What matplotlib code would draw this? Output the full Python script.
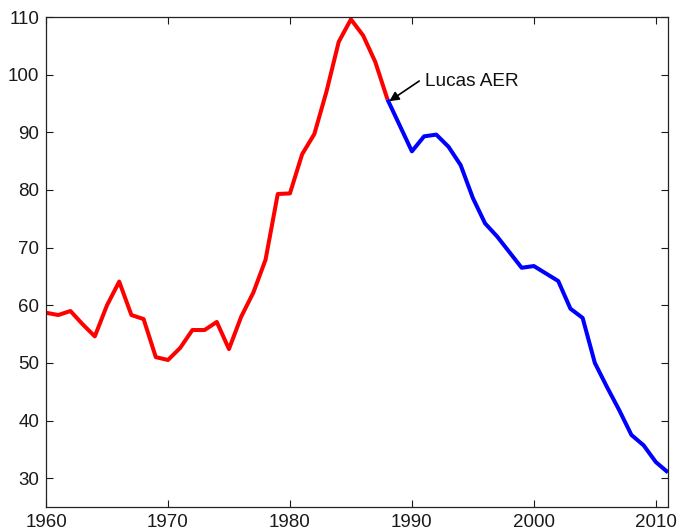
import matplotlib
matplotlib.use("Agg")
import matplotlib.pyplot as plt

years = list(range(1960, 2012))
values = [58.7, 58.3, 59.0, 56.7, 54.6, 60.0, 64.1, 58.3, 57.6, 51.0,
          50.5, 52.6, 55.7, 55.7, 57.1, 52.4, 58.0, 62.2, 67.9, 79.3,
          79.4, 86.2, 89.7, 97.1, 105.7, 109.6, 106.8, 102.2, 95.7, 91.2,
          86.7, 89.3, 89.6, 87.5, 84.3, 78.6, 74.2, 71.9, 69.2, 66.5,
          66.8, 65.5, 64.2, 59.4, 57.8, 50.0, 45.8, 41.8, 37.5, 35.7,
          32.8, 31.0]
split_year = 1988
annotation_text = "Lucas AER"

plt.rcParams['font.family'] = ['Liberation Sans', 'DejaVu Sans']

fig = plt.figure(figsize=(6.79, 5.32), dpi=100)
ax = fig.add_axes([0.0678, 0.047, 0.916, 0.921])

i = years.index(split_year)
ax.plot(years[:i + 1], values[:i + 1], color='#ff0000', lw=2.9, solid_capstyle='butt')
ax.plot(years[i:], values[i:], color='#0000ff', lw=2.9, solid_capstyle='butt')

ax.text(1991.05, 98.8, annotation_text, fontsize=13.7, va='center', ha='left',
        color='#111111')
ax.annotate("", xy=(years[i] + 0.15, values[i] - 0.3), xytext=(1990.6, 98.9),
            arrowprops=dict(arrowstyle='-|>', color='black', lw=1.2,
                            shrinkA=0, shrinkB=0, mutation_scale=14))

ax.set_xlim(1960, 2011)
ax.set_ylim(25, 110)
ax.set_xticks(range(1960, 2011, 10))
ax.set_yticks(range(30, 111, 10))
ax.tick_params(direction='in', top=True, right=True, labelsize=13.5, length=5,
               width=0.8, colors='#1a1a1a', pad=5)
for s in ax.spines.values():
    s.set_linewidth(0.9)
    s.set_color('#222222')

fig.savefig('out.png', dpi=100)
